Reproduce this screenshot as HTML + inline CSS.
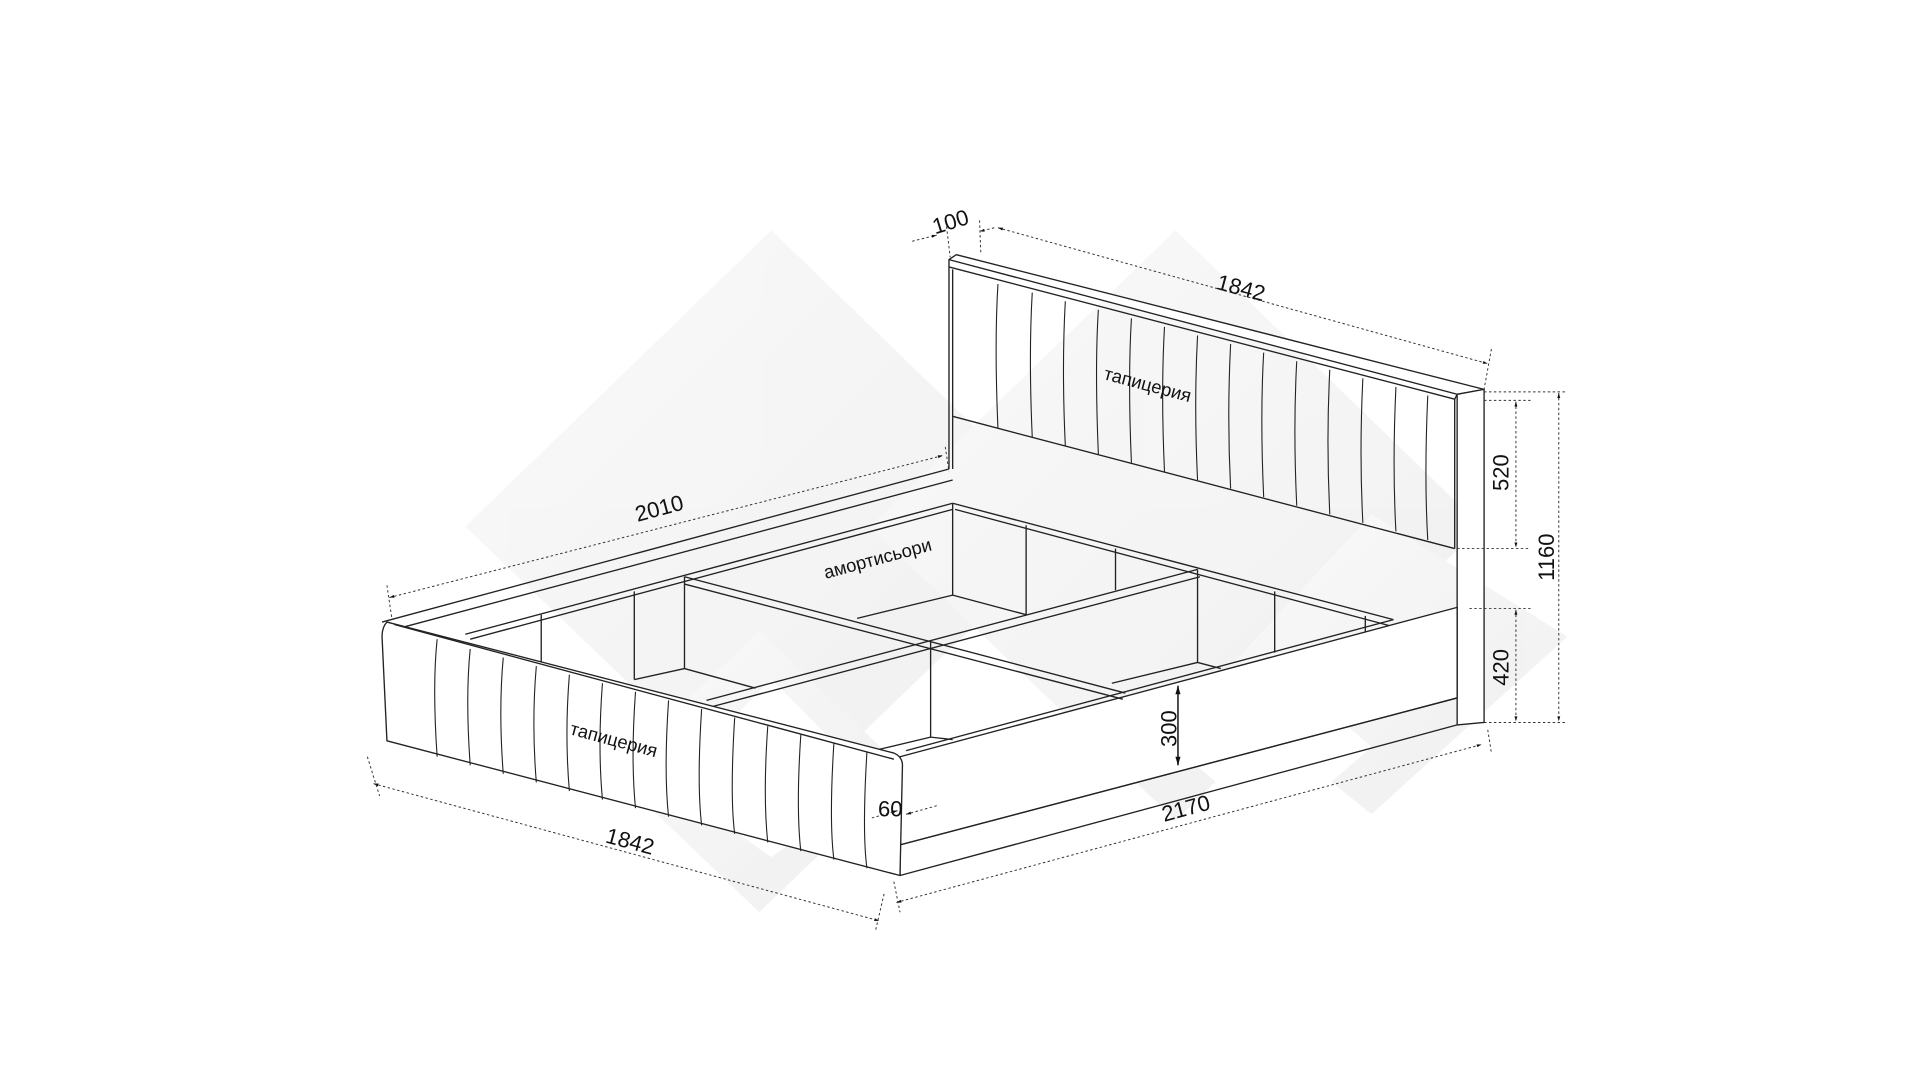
<!DOCTYPE html>
<html><head><meta charset="utf-8"><style>
html,body{margin:0;padding:0;background:#fff;width:1920px;height:1080px;overflow:hidden}
svg{display:block}
text{font-family:"Liberation Sans",sans-serif;fill:#111}
</style></head><body>
<svg width="1920" height="1080" viewBox="0 0 1568 882" preserveAspectRatio="none" xmlns="http://www.w3.org/2000/svg">
<defs>
<marker id="a" viewBox="0 0 10 10" refX="10" refY="5" markerWidth="7" markerHeight="5" orient="auto-start-reverse"><path d="M0,2 L10,5 L0,8 z" fill="#111"/></marker>
<linearGradient id="g" x1="0" y1="0" x2="1" y2="1"><stop offset="0" stop-color="#f6f6f6"/><stop offset="1" stop-color="#e6e6e6"/></linearGradient>
</defs>
<g fill="url(#g)" opacity="0.6">
<polygon points="630,188 880,430 630,670 380,430"/>
<polygon points="960,188 1210,430 960,670 710,430"/>
<polygon points="620,515 740,630 620,745 500,630"/>
<polygon points="1120,420 1280,520 1120,665 990,560"/>
</g>
<g fill="#fff">
<polygon points="630,555 715,640 630,700 545,640"/>
<polygon points="1040,540 1120,610 1040,680 960,610"/>
</g>
<g stroke="#222" stroke-width="1.1" fill="none" stroke-linejoin="round">
<polygon points="775,212 781,208 1212,318 1190,322" fill="#fff"/>
<polyline points="775,212 775,218 1188,326 1190,322"/>
<polyline points="775,218 775,383"/>
<line x1="778" y1="340" x2="1188" y2="448"/>
<line x1="778" y1="220" x2="778" y2="383"/>
<line x1="1188" y1="326" x2="1188" y2="448"/>
<polygon points="1190,322 1212,318 1212,590 1190,592" fill="#fff"/>
<g stroke-width="0.9">
<path d="M815,232 Q812,280 815,350"/><path d="M843,239 Q840,290 843,357"/>
<path d="M870,246 Q867,300 870,364"/><path d="M897,253 Q894,300 897,371"/>
<path d="M924,260 Q921,310 924,378"/><path d="M951,267 Q948,320 951,385"/>
<path d="M978,274 Q975,330 978,392"/><path d="M1005,281 Q1002,340 1005,399"/>
<path d="M1032,288 Q1029,340 1032,406"/><path d="M1059,295 Q1056,350 1059,413"/>
<path d="M1086,302 Q1083,360 1086,420"/><path d="M1113,309 Q1110,370 1113,427"/>
<path d="M1140,316 Q1137,380 1140,434"/><path d="M1166,323 Q1163,390 1166,441"/>
</g>
<polyline points="312,508 775,383"/>
<polyline points="330,512 778,392"/>
<polyline points="380,518 778,411"/>
<polyline points="384,522 778,416"/>
<polyline points="778,411 1138,506"/>
<polyline points="780,416 1135,511"/>
<polygon points="735,618 1190,496 1190,570 735,690" fill="#fff"/>
<polyline points="735,690 735,715 1190,592"/>
<line x1="735" y1="690" x2="1190" y2="570"/>
<line x1="740" y1="613" x2="1138" y2="506"/>
<polyline points="559,471 919,566"/>
<polyline points="559,477 917,571"/>
<polyline points="577,572 978,465"/>
<polyline points="582,577 980,471"/>
<line x1="442" y1="502" x2="442" y2="562"/>
<line x1="518" y1="483" x2="518" y2="555"/>
<line x1="559" y1="471" x2="559" y2="546"/>
<line x1="778" y1="411" x2="778" y2="486"/>
<line x1="838" y1="429" x2="838" y2="502"/>
<line x1="911" y1="448" x2="911" y2="482"/>
<line x1="978" y1="465" x2="978" y2="541"/>
<line x1="1041" y1="483" x2="1041" y2="533"/>
<line x1="1115" y1="503" x2="1115" y2="516"/>
<line x1="760" y1="524" x2="760" y2="602"/>
<polyline points="518,555 559,546 617,562"/>
<polyline points="700,505 778,486 838,502"/>
<polyline points="908,558 978,541 997,546"/>
<polyline points="718,612 760,602 778,604"/>
<path d="M316,508 Q312,512 312,520 L316,605 L735,715 L737,625 Q737,618 730,615 Z" fill="#fff"/>
<line x1="322" y1="510" x2="730" y2="620"/>
<g stroke-width="0.9">
<path d="M357,522 Q353,560 357,618"/><path d="M384,530 Q380,570 384,625"/>
<path d="M411,537 Q407,580 411,632"/><path d="M438,544 Q434,590 438,639"/>
<path d="M465,551 Q461,600 465,646"/><path d="M492,558 Q488,610 492,653"/>
<path d="M519,565 Q515,620 519,660"/><path d="M546,572 Q542,630 546,667"/>
<path d="M573,579 Q569,640 573,674"/><path d="M600,586 Q596,650 600,681"/>
<path d="M627,593 Q623,650 627,688"/><path d="M654,600 Q650,660 654,695"/>
<path d="M681,607 Q677,670 681,702"/><path d="M708,614 Q704,680 708,709"/>
</g>
</g>
<g stroke="#333" stroke-width="0.8" stroke-dasharray="2,2" fill="none">
<line x1="318" y1="488" x2="770" y2="372" marker-start="url(#a)" marker-end="url(#a)"/>
<line x1="316" y1="478" x2="320" y2="505"/>
<line x1="772" y1="365" x2="775" y2="385"/>
<line x1="745" y1="197" x2="765" y2="192" marker-end="url(#a)"/>
<line x1="812" y1="186" x2="800" y2="189" marker-end="url(#a)"/>
<line x1="815" y1="186" x2="1215" y2="297" marker-start="url(#a)" marker-end="url(#a)"/>
<line x1="773" y1="185" x2="776" y2="210"/><line x1="800" y1="180" x2="801" y2="207"/>
<line x1="1218" y1="285" x2="1212" y2="318"/>
<line x1="305" y1="640" x2="718" y2="752" marker-start="url(#a)" marker-end="url(#a)"/>
<line x1="300" y1="618" x2="310" y2="650"/><line x1="722" y1="730" x2="715" y2="760"/>
<line x1="732" y1="737" x2="1210" y2="608" marker-start="url(#a)" marker-end="url(#a)"/>
<line x1="730" y1="720" x2="735" y2="745"/><line x1="1215" y1="596" x2="1218" y2="615"/>
<line x1="1212" y1="320" x2="1280" y2="320"/><line x1="1212" y1="327" x2="1250" y2="327"/>
<line x1="1190" y1="448" x2="1250" y2="448"/><line x1="1200" y1="497" x2="1250" y2="497"/>
<line x1="1212" y1="590" x2="1280" y2="590"/>
<line x1="1238" y1="328" x2="1238" y2="447" marker-start="url(#a)" marker-end="url(#a)"/>
<line x1="1238" y1="498" x2="1238" y2="589" marker-start="url(#a)" marker-end="url(#a)"/>
<line x1="1273" y1="321" x2="1273" y2="589" marker-start="url(#a)" marker-end="url(#a)"/>
<line x1="962" y1="560" x2="962" y2="625" stroke-dasharray="none" stroke-width="1.4" marker-start="url(#a)" marker-end="url(#a)"/>
<line x1="712" y1="668" x2="733" y2="662" marker-end="url(#a)"/>
<line x1="765" y1="658" x2="740" y2="665" marker-end="url(#a)"/>
</g>
<text x="778" y="187" font-size="18" transform="rotate(-17 778 187)" text-anchor="middle">100</text>
<text x="1012" y="241" font-size="18" transform="rotate(15 1012 241)" text-anchor="middle">1842</text>
<text x="540" y="421" font-size="18" transform="rotate(-15 540 421)" text-anchor="middle">2010</text>
<text x="718" y="461" font-size="15" transform="rotate(-15 718 461)" text-anchor="middle">амортисьори</text>
<text x="936" y="319" font-size="15" transform="rotate(15 936 319)" text-anchor="middle">тапицерия</text>
<text x="500" y="609" font-size="15" transform="rotate(15 500 609)" text-anchor="middle">тапицерия</text>
<text x="513" y="693" font-size="18" transform="rotate(15 513 693)" text-anchor="middle">1842</text>
<text x="970" y="666" font-size="18" transform="rotate(-15 970 666)" text-anchor="middle">2170</text>
<text x="727" y="667" font-size="18" text-anchor="middle">60</text>
<text x="961" y="595" font-size="18" transform="rotate(-90 961 595)" text-anchor="middle">300</text>
<text x="1232" y="386" font-size="18" transform="rotate(-90 1232 386)" text-anchor="middle">520</text>
<text x="1232" y="545" font-size="18" transform="rotate(-90 1232 545)" text-anchor="middle">420</text>
<text x="1269" y="455" font-size="18" transform="rotate(-90 1269 455)" text-anchor="middle">1160</text>
</svg>
</body></html>
